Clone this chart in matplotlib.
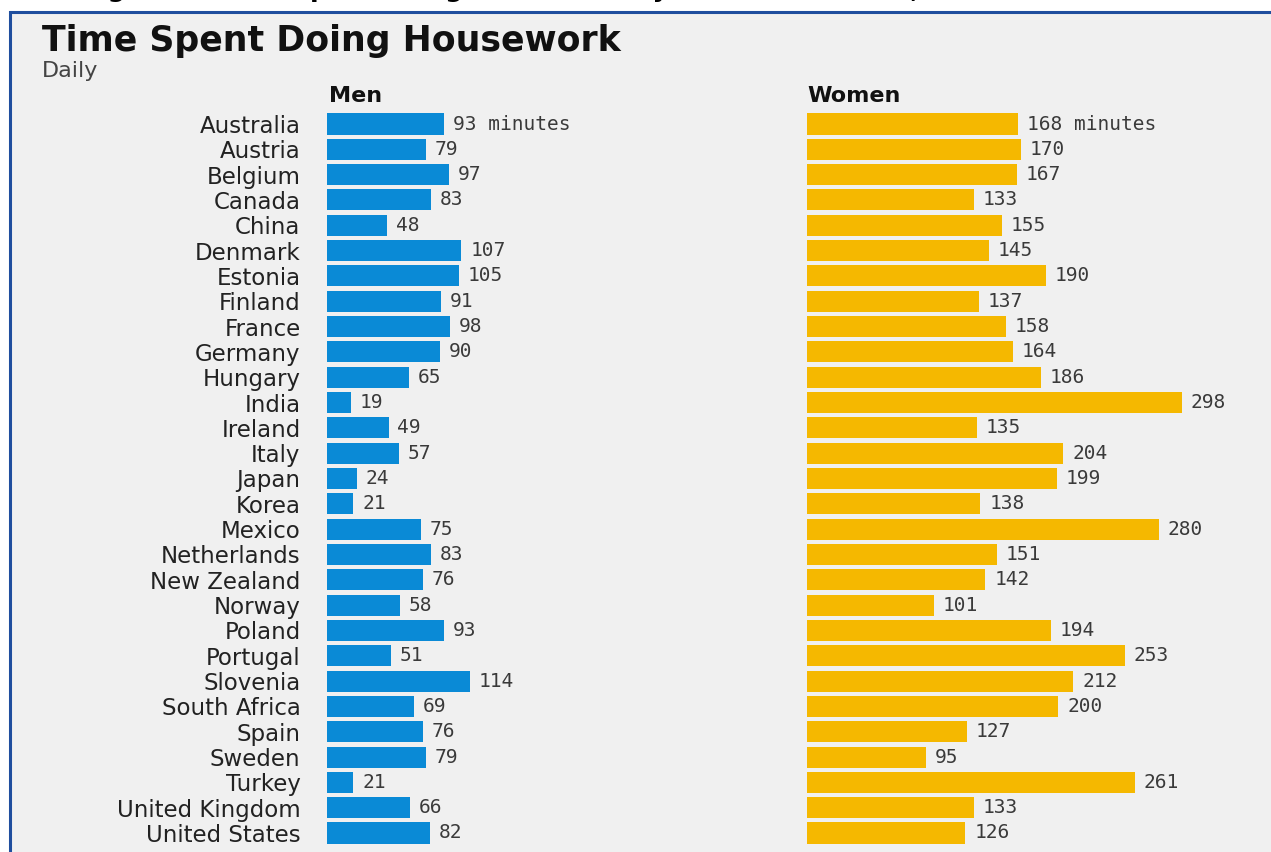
import matplotlib.pyplot as plt
from matplotlib.patches import Rectangle

# data (minutes per day)
countries = ['Australia', 'Austria', 'Belgium', 'Canada', 'China', 'Denmark', 'Estonia',
             'Finland', 'France', 'Germany', 'Hungary', 'India', 'Ireland', 'Italy', 'Japan',
             'Korea', 'Mexico', 'Netherlands', 'New Zealand', 'Norway', 'Poland', 'Portugal',
             'Slovenia', 'South Africa', 'Spain', 'Sweden', 'Turkey', 'United Kingdom',
             'United States']
men = [93, 79, 97, 83, 48, 107, 105, 91, 98, 90, 65, 19, 49, 57, 24, 21, 75, 83, 76, 58,
       93, 51, 114, 69, 76, 79, 21, 66, 82]
women = [168, 170, 167, 133, 155, 145, 190, 137, 158, 164, 186, 298, 135, 204, 199, 138,
         280, 151, 142, 101, 194, 253, 212, 200, 127, 95, 261, 133, 126]

W, H = 1271, 852
fig = plt.figure(figsize=(W / 100, H / 100), dpi=100)
fig.patch.set_facecolor('white')

# grey panel with blue border on top / left
fig.patches.append(Rectangle((9.5 / W, -0.05), 1.1, 1.05 - 11.5 / H, transform=fig.transFigure,
                             facecolor='#f0f0f0', edgecolor='#1f4e9e', lw=2.2, zorder=-5))

# caption cut off at the top of the page
fig.text(0.5, 1 + 10 / H, 'Figure 1: Time spent doing housework by men and women, selected countries',
         ha='center', va='center', fontsize=18, fontweight='bold', color='black')

fig.text(42 / W, 1 - 41 / H, 'Time Spent Doing Housework', ha='left', va='center',
         fontsize=25, fontweight='bold', color='#111111')
fig.text(42 / W, 1 - 71 / H, 'Daily', ha='left', va='center', fontsize=16, color='#444444')

n = len(countries)
row = (833 - 124) / (n - 1)
top_px = 124 - row / 2
bot_px = top_px + n * row
ax_b = 1 - bot_px / H
ax_h = (bot_px - top_px) / H
span = 360
ax_w = span * 1.257 / W

ax_m = fig.add_axes([327 / W, ax_b, ax_w, ax_h])
ax_w2 = fig.add_axes([807 / W, ax_b, ax_w, ax_h])

for ax, vals, color, head, hx in [(ax_m, men, '#0a8ad6', 'Men', 329),
                                  (ax_w2, women, '#f5b800', 'Women', 807)]:
    ax.set_facecolor('none')
    ypos = list(range(n))
    ax.barh(ypos, vals, height=0.83, color=color)
    for i, v in enumerate(vals):
        lab = f'{v} minutes' if i == 0 else f'{v}'
        ax.text(v + 7, i, lab, ha='left', va='center', fontsize=14,
                family='DejaVu Sans Mono', color='#3a3a3a')
    ax.set_xlim(0, span)
    ax.set_ylim(n - 0.5, -0.5)
    ax.set_xticks([])
    ax.set_yticks([])
    for s in ax.spines.values():
        s.set_visible(False)
    fig.text(hx / W, 1 - 96 / H, head, ha='left', va='center', fontsize=16,
             fontweight='bold', color='#111111')

ax_m.set_yticks(range(n))
ax_m.set_yticklabels(countries, fontsize=16.5, color='#222222')
ax_m.tick_params(axis='y', length=0, pad=29 - 10)

fig.savefig('out.png', dpi=100, facecolor=fig.get_facecolor())
